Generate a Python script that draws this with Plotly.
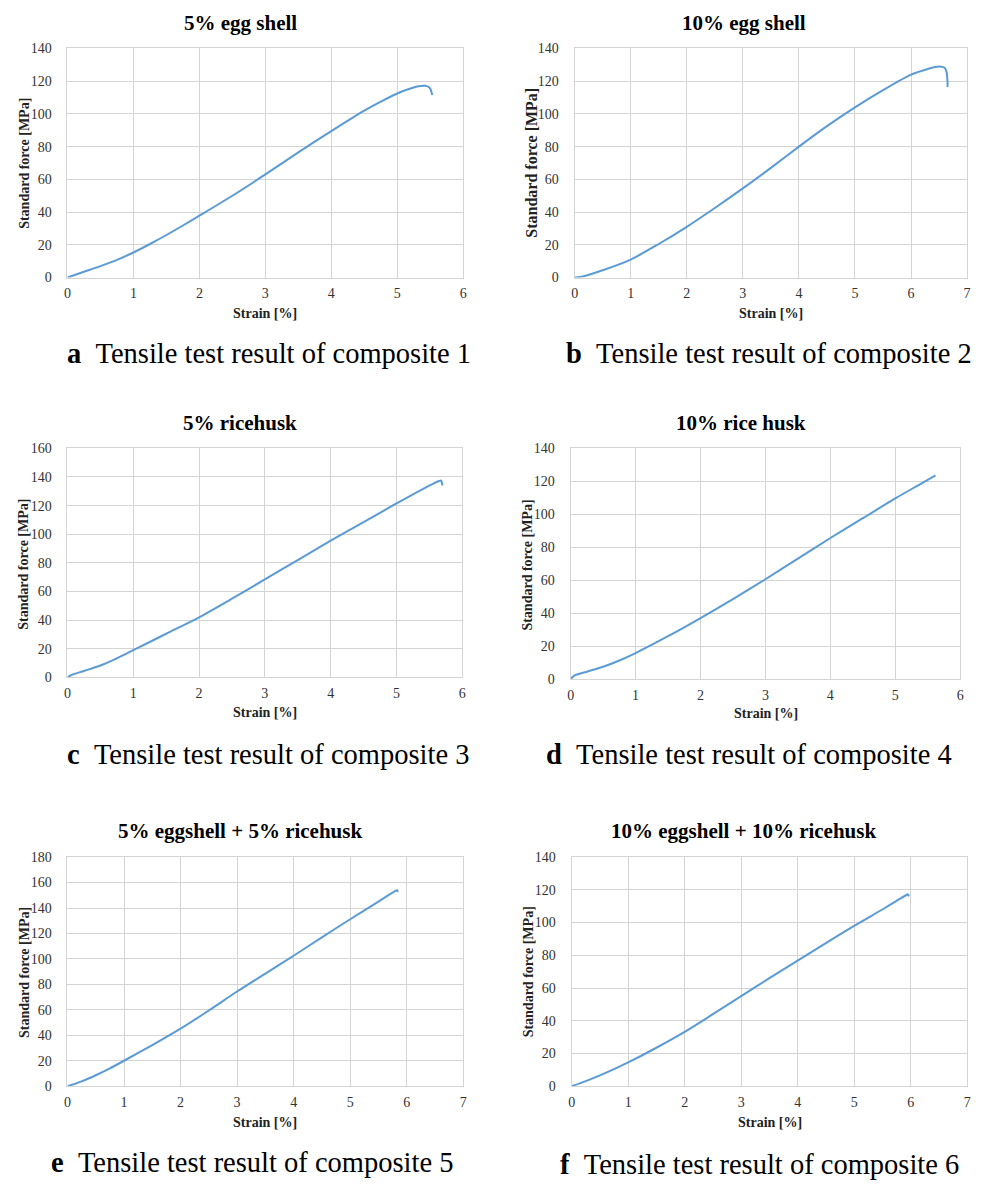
import plotly.graph_objects as go

W, H = 986, 1188

# ---- data ----
a_x = [0, 0.25, 0.5, 0.75, 1, 1.25, 1.5, 1.75, 2, 2.5, 3, 3.5, 4, 4.5, 4.75, 5, 5.2, 5.35, 5.45, 5.5, 5.52, 5.53]
a_y = [0, 3.5, 7, 10.8, 15.3, 20.5, 26, 31.8, 37.8, 50, 63, 76.5, 89.5, 102, 107.5, 112.5, 115.5, 117, 117, 115.5, 113, 111.5]

b_x = [0, 0.1, 0.5, 1, 1.5, 2, 2.5, 3, 3.5, 4, 4.5, 5, 5.5, 6, 6.3, 6.5, 6.6, 6.63, 6.65, 6.65]
b_y = [0, 0.3, 4.5, 11, 20.5, 31, 42.5, 54.5, 67, 80, 92.5, 104, 114.5, 124, 127.5, 129, 128.2, 126, 120, 116.5]

c_x = [0, 0.05, 0.25, 0.5, 0.75, 1, 1.5, 2, 2.5, 3, 3.5, 4, 4.5, 5, 5.5, 5.65, 5.68, 5.69, 5.7]
c_y = [0, 1.5, 4.5, 8.3, 13.3, 19, 30.5, 42, 55, 68.5, 82, 95.5, 108.5, 121.5, 134, 137.2, 137.5, 136, 134]

d_x = [0, 0.05, 0.25, 0.5, 0.75, 1, 1.5, 2, 2.5, 3, 3.5, 4, 4.5, 5, 5.4, 5.62]
d_y = [0, 2, 4.5, 7.5, 11.3, 15.8, 26, 37, 48.5, 60.5, 73, 85.5, 97.5, 109.5, 118.5, 123.5]

e_x = [0, 0.25, 0.5, 0.75, 1, 1.5, 2, 2.5, 3, 3.5, 4, 4.5, 5, 5.5, 5.8, 5.83, 5.84]
e_y = [0, 3.8, 8.6, 14, 20, 32.3, 45.2, 59.5, 74.4, 88.5, 102.5, 117, 131.2, 145, 153.5, 154, 152.5]

f_x = [0, 0.25, 0.5, 0.75, 1, 1.5, 2, 2.5, 3, 3.5, 4, 4.5, 5, 5.5, 5.75, 5.93, 5.95, 5.97]
f_y = [0, 3.1, 6.6, 10.4, 14.5, 23.5, 33.2, 44, 55, 66, 76.7, 87.5, 98, 108, 113.2, 117, 117.3, 116]

titles = ["5% egg shell", "10% egg shell", "5% ricehusk", "10% rice husk",
          "5% eggshell + 5% ricehusk", "10% eggshell + 10% ricehusk"]
letters = ["a", "b", "c", "d", "e", "f"]
caption_text = "Tensile test result of composite"
x_max = [6, 7, 6, 6, 7, 7]
y_max = [140, 140, 160, 140, 180, 140]
y_dtick = 20
x_title = "Strain [%]"
y_title = "Standard force [MPa]"

series = [(a_x, a_y), (b_x, b_y), (c_x, c_y), (d_x, d_y), (e_x, e_y), (f_x, f_y)]

# ---- layout geometry (pixels) ----
boxes = [  # x0, x1, ytop, ybottom
    (64, 463, 42, 274),
    (575.3, 971, 42, 274),
    (64, 462, 447, 679),
    (571.3, 964, 446.7, 680.7),
    (64, 463, 861, 1093),
    (572.3, 971, 861, 1093),
]
title_pos = [(238, 16), (746, 16), (238, 421), (743, 421), (237.5, 835), (746, 835)]
xt_pos = [(263, 310), (773, 310), (263, 715), (768, 716), (263, 1130), (772, 1130)]
yt_pos = [(20, 158), (531, 158), (20, 564), (528, 565), (20, 977.5), (529, 977)]
yt_size = [14, 16, 14, 14, 14, 14]
cap_pos = [(62, 351), (565, 351), (61, 757), (544, 757), (45, 1170), (559, 1172)]

LINE = "#5b9bd5"
GRID = "#d4d4d4"
SERIF = "Liberation Serif, Times New Roman, serif"

fig = go.Figure()
annotations = []

def px(x):
    return x / W

def py(y):
    return 1 - y / H

for i, ((xs, ys), (x0, x1, yt, yb)) in enumerate(zip(series, boxes)):
    n = i + 1
    xa = "x" if n == 1 else f"x{n}"
    ya = "y" if n == 1 else f"y{n}"
    fig.add_trace(go.Scatter(x=xs, y=ys, mode="lines", xaxis=xa, yaxis=ya,
                             line=dict(color=LINE, width=2, shape="spline", smoothing=0.8),
                             showlegend=False, hoverinfo="skip"))
    axcommon = dict(showgrid=True, gridcolor=GRID, gridwidth=1, zeroline=False,
                    showline=True, linecolor=GRID, linewidth=1, mirror=True,
                    ticks="", tickfont=dict(family=SERIF, size=14, color="#333333"))
    fig.update_layout(**{
        ("xaxis" if n == 1 else f"xaxis{n}"): dict(
            domain=[px(x0), px(x1)], range=[0, x_max[i]], dtick=1,
            anchor=ya, ticklabelstandoff=3, **axcommon),
        ("yaxis" if n == 1 else f"yaxis{n}"): dict(
            domain=[py(yb), py(yt)], range=[0, y_max[i]], dtick=y_dtick,
            anchor=xa, ticklabelstandoff=12, **axcommon),
    })
    tx, ty = title_pos[i]
    annotations.append(dict(text=f"<b>{titles[i]}</b>", x=px(tx), y=py(ty), xref="paper", yref="paper",
                            showarrow=False, xanchor="center", yanchor="middle",
                            font=dict(family=SERIF, size=21, color="#000000")))
    ax_, ay_ = xt_pos[i]
    annotations.append(dict(text=f"<b>{x_title}</b>", x=px(ax_), y=py(ay_), xref="paper", yref="paper",
                            showarrow=False, xanchor="center", yanchor="middle",
                            font=dict(family=SERIF, size=14, color="#222222")))
    bx, by = yt_pos[i]
    annotations.append(dict(text=f"<b>{y_title}</b>", x=px(bx), y=py(by), xref="paper", yref="paper",
                            showarrow=False, xanchor="center", yanchor="middle", textangle=-90,
                            font=dict(family=SERIF, size=yt_size[i], color="#222222")))
    cx, cy = cap_pos[i]
    annotations.append(dict(text=f"<b>{letters[i]}</b>\u00a0\u00a0{caption_text} {n}",
                            x=px(cx), y=py(cy), xref="paper", yref="paper",
                            showarrow=False, xanchor="left", yanchor="middle",
                            font=dict(family=SERIF, size=28.5, color="#000000")))

fig.update_layout(width=W, height=H, margin=dict(l=0, r=0, t=0, b=0),
                  paper_bgcolor="white", plot_bgcolor="white",
                  annotations=annotations)

fig.write_html(
    "out.html",
    config={"displayModeBar": False, "staticPlot": True},
    post_script=(
        "var s=document.documentElement.style; s.margin='0'; s.padding='0'; s.overflow='hidden';"
        "s.width='986px'; s.height='1188px';"
        "var b=document.body.style; b.margin='0'; b.padding='0'; b.overflow='hidden';"
        "b.width='986px'; b.height='1188px';"
        "var d=document.querySelector('.plotly-graph-div');"
        "d.style.position='fixed'; d.style.left='0px'; d.style.top='0px';"
    ),
)
